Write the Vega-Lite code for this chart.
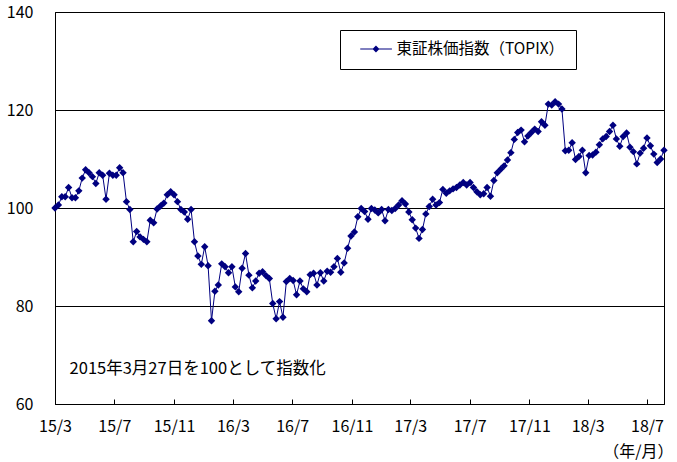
{
  "$schema": "https://vega.github.io/schema/vega-lite/v6.json",
  "width": 609,
  "height": 392,
  "autosize": {"type": "none"},
  "padding": {"left": 55, "top": 12, "right": 13, "bottom": 58},
  "background": "white",
  "config": {
    "view": {"stroke": "black", "strokeWidth": 1},
    "font": "Noto Sans CJK JP",
    "axis": {
      "labelFont": "Noto Sans CJK JP",
      "labelFontSize": 16,
      "labelColor": "black",
      "domainColor": "black",
      "domainWidth": 1,
      "tickColor": "black",
      "titleFont": "Noto Sans CJK JP",
      "titleColor": "black"
    }
  },
  "data": {"values": [
    {"date": "2015-03-27", "v": 100.0}, {"date": "2015-04-03", "v": 100.6}, {"date": "2015-04-10", "v": 102.3}, {"date": "2015-04-17", "v": 102.3},
    {"date": "2015-04-24", "v": 104.2}, {"date": "2015-05-01", "v": 102.1}, {"date": "2015-05-08", "v": 102.1}, {"date": "2015-05-15", "v": 103.5},
    {"date": "2015-05-22", "v": 106.1}, {"date": "2015-05-29", "v": 107.8}, {"date": "2015-06-05", "v": 107.2}, {"date": "2015-06-12", "v": 106.4},
    {"date": "2015-06-19", "v": 105.0}, {"date": "2015-06-26", "v": 107.2}, {"date": "2015-07-03", "v": 106.7}, {"date": "2015-07-10", "v": 101.8},
    {"date": "2015-07-17", "v": 107.1}, {"date": "2015-07-24", "v": 106.7}, {"date": "2015-07-31", "v": 106.7}, {"date": "2015-08-07", "v": 108.2},
    {"date": "2015-08-14", "v": 107.2}, {"date": "2015-08-21", "v": 101.3}, {"date": "2015-08-28", "v": 99.7}, {"date": "2015-09-04", "v": 93.1},
    {"date": "2015-09-11", "v": 95.2}, {"date": "2015-09-18", "v": 94.1}, {"date": "2015-09-25", "v": 93.6}, {"date": "2015-10-02", "v": 93.1},
    {"date": "2015-10-09", "v": 97.5}, {"date": "2015-10-16", "v": 97.0}, {"date": "2015-10-23", "v": 99.8}, {"date": "2015-10-30", "v": 100.4},
    {"date": "2015-11-06", "v": 101.0}, {"date": "2015-11-13", "v": 102.7}, {"date": "2015-11-20", "v": 103.3}, {"date": "2015-11-27", "v": 102.7},
    {"date": "2015-12-04", "v": 101.3}, {"date": "2015-12-11", "v": 99.7}, {"date": "2015-12-18", "v": 99.2}, {"date": "2015-12-25", "v": 97.7},
    {"date": "2016-01-01", "v": 99.7}, {"date": "2016-01-08", "v": 93.1}, {"date": "2016-01-15", "v": 90.2}, {"date": "2016-01-22", "v": 88.5},
    {"date": "2016-01-29", "v": 92.1}, {"date": "2016-02-05", "v": 88.2}, {"date": "2016-02-12", "v": 77.0}, {"date": "2016-02-19", "v": 83.0},
    {"date": "2016-02-26", "v": 84.3}, {"date": "2016-03-04", "v": 88.6}, {"date": "2016-03-11", "v": 88.0}, {"date": "2016-03-18", "v": 86.8},
    {"date": "2016-03-25", "v": 88.0}, {"date": "2016-04-01", "v": 83.9}, {"date": "2016-04-08", "v": 82.9}, {"date": "2016-04-15", "v": 87.7},
    {"date": "2016-04-22", "v": 90.7}, {"date": "2016-04-29", "v": 86.3}, {"date": "2016-05-06", "v": 83.7}, {"date": "2016-05-13", "v": 85.1},
    {"date": "2016-05-20", "v": 86.7}, {"date": "2016-05-27", "v": 87.0}, {"date": "2016-06-03", "v": 86.2}, {"date": "2016-06-10", "v": 85.6},
    {"date": "2016-06-17", "v": 80.5}, {"date": "2016-06-24", "v": 77.4}, {"date": "2016-07-01", "v": 80.9}, {"date": "2016-07-08", "v": 77.7},
    {"date": "2016-07-15", "v": 85.0}, {"date": "2016-07-22", "v": 85.6}, {"date": "2016-07-29", "v": 85.2}, {"date": "2016-08-05", "v": 82.3},
    {"date": "2016-08-12", "v": 85.1}, {"date": "2016-08-19", "v": 83.5}, {"date": "2016-08-26", "v": 82.9}, {"date": "2016-09-02", "v": 86.4},
    {"date": "2016-09-09", "v": 86.7}, {"date": "2016-09-16", "v": 84.3}, {"date": "2016-09-23", "v": 86.8}, {"date": "2016-09-30", "v": 85.1},
    {"date": "2016-10-07", "v": 87.1}, {"date": "2016-10-14", "v": 86.9}, {"date": "2016-10-21", "v": 88.0}, {"date": "2016-10-28", "v": 89.7},
    {"date": "2016-11-04", "v": 86.9}, {"date": "2016-11-11", "v": 88.8}, {"date": "2016-11-18", "v": 91.8}, {"date": "2016-11-25", "v": 94.3},
    {"date": "2016-12-02", "v": 95.1}, {"date": "2016-12-09", "v": 98.2}, {"date": "2016-12-16", "v": 99.9}, {"date": "2016-12-23", "v": 99.3},
    {"date": "2016-12-30", "v": 97.7}, {"date": "2017-01-06", "v": 99.9}, {"date": "2017-01-13", "v": 99.6}, {"date": "2017-01-20", "v": 99.0},
    {"date": "2017-01-27", "v": 99.7}, {"date": "2017-02-03", "v": 97.4}, {"date": "2017-02-10", "v": 99.7}, {"date": "2017-02-17", "v": 99.5},
    {"date": "2017-02-24", "v": 99.9}, {"date": "2017-03-03", "v": 100.6}, {"date": "2017-03-10", "v": 101.5}, {"date": "2017-03-17", "v": 100.8},
    {"date": "2017-03-24", "v": 99.2}, {"date": "2017-03-31", "v": 97.6}, {"date": "2017-04-07", "v": 95.9}, {"date": "2017-04-14", "v": 93.8},
    {"date": "2017-04-21", "v": 95.6}, {"date": "2017-04-28", "v": 98.8}, {"date": "2017-05-05", "v": 100.3}, {"date": "2017-05-12", "v": 101.8},
    {"date": "2017-05-19", "v": 100.6}, {"date": "2017-05-26", "v": 101.1}, {"date": "2017-06-02", "v": 103.8}, {"date": "2017-06-09", "v": 103.0},
    {"date": "2017-06-16", "v": 103.5}, {"date": "2017-06-23", "v": 103.9}, {"date": "2017-06-30", "v": 104.2}, {"date": "2017-07-07", "v": 104.7},
    {"date": "2017-07-14", "v": 105.2}, {"date": "2017-07-21", "v": 104.7}, {"date": "2017-07-28", "v": 105.2}, {"date": "2017-08-04", "v": 104.2},
    {"date": "2017-08-11", "v": 103.3}, {"date": "2017-08-18", "v": 102.7}, {"date": "2017-08-25", "v": 102.9}, {"date": "2017-09-01", "v": 104.2},
    {"date": "2017-09-08", "v": 102.4}, {"date": "2017-09-15", "v": 105.6}, {"date": "2017-09-22", "v": 107.2}, {"date": "2017-09-29", "v": 107.9},
    {"date": "2017-10-06", "v": 108.6}, {"date": "2017-10-13", "v": 109.8}, {"date": "2017-10-20", "v": 111.3}, {"date": "2017-10-27", "v": 114.0},
    {"date": "2017-11-03", "v": 115.4}, {"date": "2017-11-10", "v": 115.9}, {"date": "2017-11-17", "v": 113.5}, {"date": "2017-11-24", "v": 114.7},
    {"date": "2017-12-01", "v": 115.4}, {"date": "2017-12-08", "v": 116.1}, {"date": "2017-12-15", "v": 115.6}, {"date": "2017-12-22", "v": 117.6},
    {"date": "2017-12-29", "v": 116.9}, {"date": "2018-01-05", "v": 121.2}, {"date": "2018-01-12", "v": 121.0}, {"date": "2018-01-19", "v": 121.7},
    {"date": "2018-01-26", "v": 121.2}, {"date": "2018-02-02", "v": 120.2}, {"date": "2018-02-09", "v": 111.7}, {"date": "2018-02-16", "v": 111.8},
    {"date": "2018-02-23", "v": 113.3}, {"date": "2018-03-02", "v": 109.9}, {"date": "2018-03-09", "v": 110.5}, {"date": "2018-03-16", "v": 111.8},
    {"date": "2018-03-23", "v": 107.2}, {"date": "2018-03-30", "v": 110.7}, {"date": "2018-04-06", "v": 110.8}, {"date": "2018-04-13", "v": 111.4},
    {"date": "2018-04-20", "v": 112.9}, {"date": "2018-04-27", "v": 114.1}, {"date": "2018-05-04", "v": 114.6}, {"date": "2018-05-11", "v": 115.6},
    {"date": "2018-05-18", "v": 116.9}, {"date": "2018-05-25", "v": 114.1}, {"date": "2018-06-01", "v": 112.6}, {"date": "2018-06-08", "v": 114.6},
    {"date": "2018-06-15", "v": 115.3}, {"date": "2018-06-22", "v": 112.4}, {"date": "2018-06-29", "v": 111.5}, {"date": "2018-07-06", "v": 109.0},
    {"date": "2018-07-13", "v": 111.2}, {"date": "2018-07-20", "v": 112.2}, {"date": "2018-07-27", "v": 114.3}, {"date": "2018-08-03", "v": 112.7},
    {"date": "2018-08-10", "v": 111.0}, {"date": "2018-08-17", "v": 109.3}, {"date": "2018-08-24", "v": 110.0}, {"date": "2018-08-31", "v": 111.8}
  ]},
  "encoding": {
    "x": {
      "field": "date",
      "type": "temporal",
      "scale": {
        "type": "utc",
        "nice": false,
        "domain": [
          {"year": 2015, "month": 3, "date": 27, "utc": true},
          {"year": 2018, "month": 8, "date": 31, "utc": true}
        ]
      },
      "axis": {
        "values": [
          {"year": 2015, "month": 3, "date": 27, "utc": true},
          {"year": 2015, "month": 7, "date": 27, "utc": true},
          {"year": 2015, "month": 11, "date": 27, "utc": true},
          {"year": 2016, "month": 3, "date": 27, "utc": true},
          {"year": 2016, "month": 7, "date": 27, "utc": true},
          {"year": 2016, "month": 11, "date": 27, "utc": true},
          {"year": 2017, "month": 3, "date": 27, "utc": true},
          {"year": 2017, "month": 7, "date": 27, "utc": true},
          {"year": 2017, "month": 11, "date": 27, "utc": true},
          {"year": 2018, "month": 3, "date": 27, "utc": true},
          {"year": 2018, "month": 7, "date": 27, "utc": true}
        ],
        "labelExpr": "utcFormat(datum.value, '%y/%-m')",
        "grid": false,
        "ticks": true,
        "tickSize": -5,
        "labelPadding": 19,
        "labelFlush": false,
        "labelOverlap": false,
        "title": "（年/月）",
        "titleFontSize": 16,
        "titleFontWeight": "normal",
        "titleAlign": "right",
        "titleBaseline": "middle",
        "titleAnchor": "end",
        "titleX": 618,
        "titleY": 47
      }
    },
    "y": {
      "field": "v",
      "type": "quantitative",
      "scale": {"domain": [60, 140], "nice": false, "zero": false},
      "axis": {
        "values": [60, 80, 100, 120, 140],
        "grid": true,
        "gridColor": "black",
        "gridOpacity": 1,
        "ticks": false,
        "labelPadding": 22,
        "labelBaseline": "middle",
        "title": null
      }
    }
  },
  "layer": [
    {
      "mark": {"type": "line", "color": "#000080", "strokeWidth": 1}
    },
    {
      "mark": {"type": "point", "shape": "diamond", "filled": true, "size": 55, "opacity": 1},
      "encoding": {
        "color": {
          "datum": "東証株価指数（TOPIX）",
          "scale": {"range": ["#000080"]},
          "legend": {
            "orient": "none",
            "legendX": 285,
            "legendY": 18,
            "title": null,
            "symbolType": "M0.16,-0.065H4.25V0.065H0.16Z M2.19,-0.45L2.64,0L2.19,0.45L1.74,0Z",
            "symbolSize": 240,
            "symbolStrokeWidth": 0,
            "labelOffset": 29.5,
            "labelFontSize": 15.5,
            "labelFont": "Noto Sans CJK JP",
            "labelColor": "black",
            "labelLimit": 400,
            "padding": 11,
            "strokeColor": "black",
            "fillColor": "white",
            "cornerRadius": 0,
            "encode": {
              "symbols": {
                "update": {
                  "fill": {"value": "#000080"},
                  "opacity": {"value": 1}
                }
              }
            }
          }
        }
      }
    },
    {
      "data": {"values": [{"date": "2015-04-26", "v": 67.2, "label": "2015年3月27日を100として指数化"}]},
      "mark": {"type": "text", "align": "left", "baseline": "middle", "fontSize": 16.5, "font": "Noto Sans CJK JP", "color": "black"},
      "encoding": {"text": {"field": "label"}}
    }
  ]
}
